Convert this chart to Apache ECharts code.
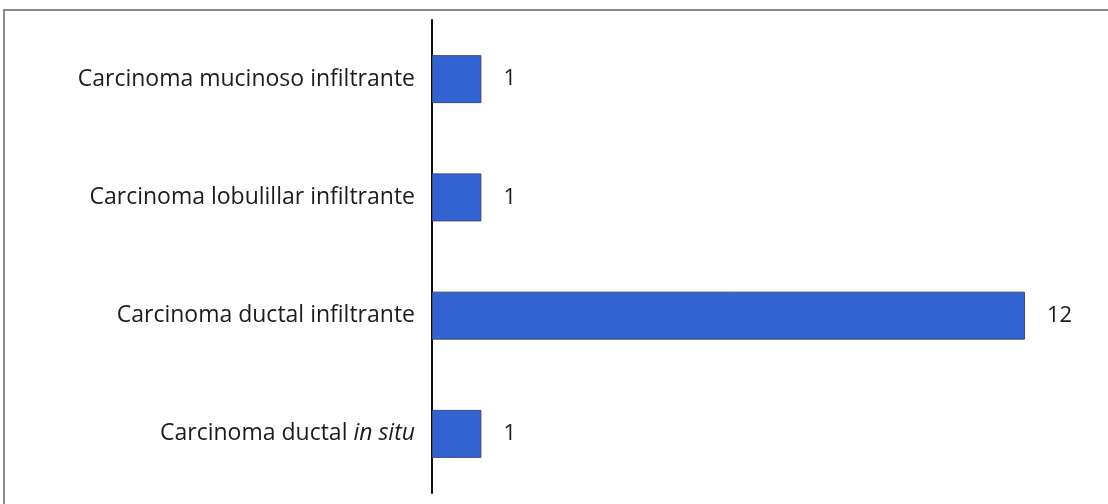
<!DOCTYPE html>
<html>
<head>
<meta charset="utf-8">
<script src="https://cdn.jsdelivr.net/npm/echarts@6/dist/echarts.min.js"></script>
<style>
  html, body { margin: 0; padding: 0; background: #fff; }
  #chart { width: 1108px; height: 504px; }
</style>
</head>
<body>
<div id="chart"></div>
<script>
// Tumour types, listed bottom to top as the category axis draws them
const categories = [
  'Carcinoma ductal in situ',
  'Carcinoma ductal infiltrante',
  'Carcinoma lobulillar infiltrante',
  'Carcinoma mucinoso infiltrante'
];
const counts = [1, 12, 1, 1];

const FONT = '"Open Sans", Lato, sans-serif';
const SIZE = 23;

const chart = echarts.init(document.getElementById('chart'));
chart.setOption({
  backgroundColor: '#ffffff',
  animation: false,
  graphic: [{
    type: 'rect',
    shape: { x: 4, y: 10, width: 1200, height: 600 },
    style: { fill: 'none', stroke: '#8a8a8a', lineWidth: 2 },
    silent: true
  }],
  grid: { left: 432, right: 83, top: 20, bottom: 11 },
  xAxis: {
    type: 'value',
    min: 0,
    max: 12,
    show: false
  },
  yAxis: {
    type: 'category',
    data: categories,
    axisLine: { show: true, lineStyle: { color: '#111', width: 2 } },
    axisTick: { show: false },
    splitLine: { show: false },
    axisLabel: {
      margin: 17,
      color: '#1c1c1c',
      fontFamily: FONT,
      fontSize: SIZE,
      formatter: function (v) {
        const m = v.match(/^(.*?)(in situ)$/);
        if (m) return '{n|' + m[1] + '}{i|' + m[2] + '}';
        return '{n|' + v + '}';
      },
      rich: {
        n: { fontFamily: FONT, fontSize: SIZE, color: '#1c1c1c' },
        i: { fontFamily: FONT, fontSize: SIZE, color: '#1c1c1c', fontStyle: 'italic' }
      }
    }
  },
  series: [{
    type: 'bar',
    data: counts,
    barWidth: 48,
    itemStyle: { color: '#3363d1', borderColor: '#3b4b7c', borderWidth: 1 },
    label: {
      show: true,
      position: 'right',
      distance: 22,
      color: '#1c1c1c',
      fontFamily: FONT,
      fontSize: 22
    }
  }]
});
</script>
</body>
</html>
